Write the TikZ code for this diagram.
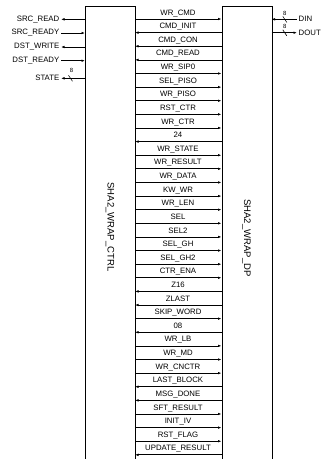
\documentclass[tikz,border=0pt]{standalone}
\usepackage{fontspec}
\setmainfont{Liberation Sans}
\usetikzlibrary{arrows.meta}
\tikzset{
  sig/.style={line width=0.7pt},
  tor/.style={-{Latex[length=3.5pt,width=2.6pt]}},
  tol/.style={{Latex[length=3.5pt,width=2.6pt]}-},
  lbl/.style={font=\fontsize{7.8}{9}\selectfont, inner sep=0pt},
  ext/.style={font=\fontsize{7.8}{9}\selectfont, inner ysep=0pt, inner xsep=1.5pt},
  bw/.style={font=\fontsize{6}{7}\selectfont, inner sep=0pt},
  blk/.style={draw, line width=0.8pt, inner sep=0pt, minimum width=50pt, minimum height=454pt, anchor=north west},
  blklbl/.style={font=\fontsize{9.5}{11}\selectfont, rotate=-90, inner sep=0pt},
  slash/.style={line width=0.6pt},
}
\begin{document}
\begin{tikzpicture}[x=1pt,y=-1pt]
\useasboundingbox (0,0) rectangle (322,459);
% blocks
\node[blk] (ctrl) at (85,5.5) {};
\node[blk] (dp) at (221.5,5.5) {};
\node[blklbl] (ctrllbl) at (110,227) {SHA2\_WRAP\_CTRL};
\node[blklbl] (dplbl) at (246.5,238) {SHA2\_WRAP\_DP};
% internal signals
\foreach \t/\d [count=\i from 0] in {
  WR\_CMD/tor, CMD\_INIT/tol, CMD\_CON/tol, CMD\_READ/tol, WR\_SIP0/tor,
  SEL\_PISO/tor, WR\_PISO/tor, RST\_CTR/tor, WR\_CTR/tor, 24/tol,
  WR\_STATE/tor, WR\_RESULT/tor, WR\_DATA/tor, KW\_WR/tor, WR\_LEN/tor,
  SEL/tor, SEL2/tor, SEL\_GH/tor, SEL\_GH2/tor, CTR\_ENA/tor,
  Z16/tol, ZLAST/tol, SKIP\_WORD/tor, 08/tol, WR\_LB/tor,
  WR\_MD/tor, WR\_CNCTR/tor, LAST\_BLOCK/tol, MSG\_DONE/tol, SFT\_RESULT/tor,
  INIT\_IV/tor, RST\_FLAG/tor, UPDATE\_RESULT/tol} {
  \pgfmathsetmacro\yy{19+13.62*\i}
  \coordinate (c\i) at (135,\yy);
  \coordinate (d\i) at (221.5,\yy);
  \node[lbl, anchor=base] (s\i) at (178,\yy-3.9) {\t};
  \draw[sig,\d] (c\i) -- (d\i);
}
% left external signals
\foreach \t/\d/\yy/\n in {SRC\_READ/tol/19.3/1, SRC\_READY/tor/33/2, DST\_WRITE/tol/47/3, DST\_READY/tor/60.7/4, STATE/tol/78.3/5} {
  \node[ext, anchor=east] (e\n) at (61,\yy) {\t};
  \coordinate (b\n) at (85,\yy);
  \draw[sig,\d] (e\n.east) -- (b\n);
}
\draw[slash] (68.5,75.3) -- (72.5,81.3);
\node[bw] (w1) at (71.5,70.8) {8};
% right external signals
\node[ext, anchor=west] (din) at (297,19.3) {DIN};
\node[ext, anchor=west] (dout) at (297,32.7) {DOUT};
\coordinate (r1) at (271.5,19.3);
\coordinate (r2) at (271.5,32.7);
\draw[sig,tol] (r1) -- (din.west);
\draw[sig,tor] (r2) -- (dout.west);
\draw[slash] (282.8,16.4) -- (286.8,22.4);
\draw[slash] (282.8,29.8) -- (286.8,35.8);
\node[bw] (w2) at (284.8,13.3) {8};
\node[bw] (w3) at (284.8,26.7) {8};
\end{tikzpicture}
\end{document}
